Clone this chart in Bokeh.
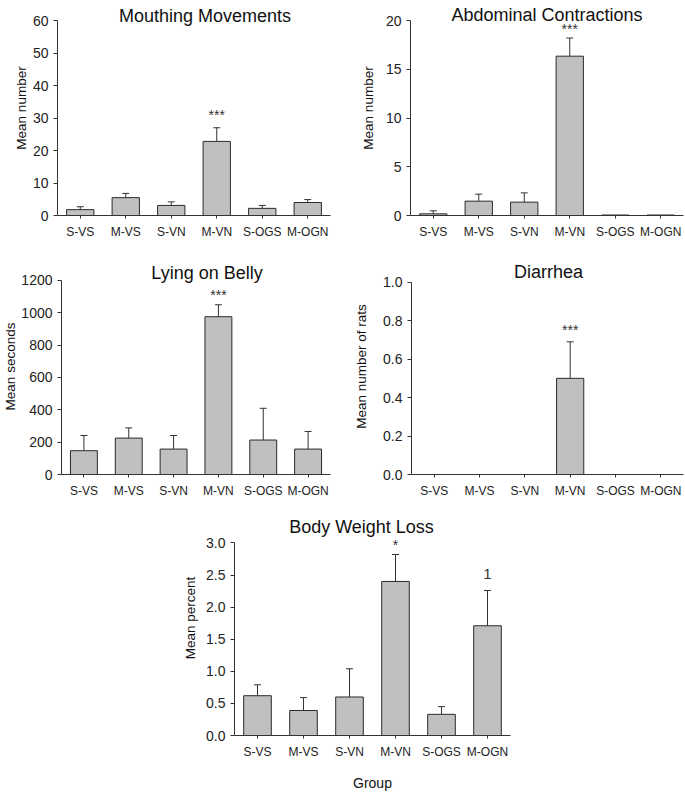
from bokeh.plotting import figure
from bokeh.layouts import column, row
from bokeh.models import (ColumnDataSource, Whisker, TeeHead, FixedTicker,
                          NumeralTickFormatter, Range1d, FactorRange)
from bokeh.embed import file_html
from bokeh.resources import INLINE
from bokeh.core.properties import value

# ---------------- data ----------------
groups = ["S-VS", "M-VS", "S-VN", "M-VN", "S-OGS", "M-OGN"]

mouth_mean = [1.8, 5.5, 3.1, 22.8, 2.2, 4.0]
mouth_err = [0.9, 1.3, 1.1, 4.2, 0.9, 0.9]

abd_mean = [0.17, 1.47, 1.37, 16.34, 0.05, 0.05]
abd_err = [0.31, 0.72, 0.95, 1.86, 0.0, 0.0]

lying_mean = [147, 225, 157, 975, 213, 157]
lying_err = [94, 63, 84, 74, 196, 109]

diar_mean = [0, 0, 0, 0.5, 0, 0]
diar_err = [0, 0, 0, 0.19, 0, 0]

bw_mean = [0.62, 0.39, 0.60, 2.40, 0.33, 1.71]
bw_err = [0.17, 0.20, 0.44, 0.42, 0.12, 0.55]

mouth_ticks = [0, 10, 20, 30, 40, 50, 60]
abd_ticks = [0, 5, 10, 15, 20]
lying_ticks = [0, 200, 400, 600, 800, 1000, 1200]
diar_ticks = [0, 0.2, 0.4, 0.6, 0.8, 1.0]
bw_ticks = [0, 0.5, 1.0, 1.5, 2.0, 2.5, 3.0]

mouth_sig = [("M-VN", "***")]
abd_sig = [("M-VN", "***")]
lying_sig = [("M-VN", "***")]
diar_sig = [("M-VN", "***")]
bw_sig = [("M-VN", "*"), ("M-OGN", "1")]

FONT = "Liberation Sans"
AX = "#333333"


def panel(title, ylabel, means, errs, ticks, fmt, sigs, w, h, bl, br, bb,
          gap, t_xoff, t_yoff, sig_off, ylab_standoff, xlabel=None):
    frame_h = h - bb
    ymax = ticks[-1]
    y_end = ymax * frame_h / (frame_h - gap)
    p = figure(width=w, height=h, x_range=FactorRange(*groups),
               y_range=Range1d(ticks[0], y_end),
               output_backend="svg", toolbar_location=None,
               min_border_left=bl, min_border_right=br,
               min_border_top=0, min_border_bottom=bb)
    p.outline_line_color = None
    p.xgrid.visible = False
    p.ygrid.visible = False
    p.background_fill_color = "white"
    p.border_fill_color = "white"

    src = ColumnDataSource(dict(g=groups, m=means))
    p.vbar(x="g", top="m", width=0.6, source=src, fill_color="#c0c0c0",
           line_color="#2a2a2a", line_width=1)

    eg = [g for g, e in zip(groups, errs) if e > 0]
    em = [m for m, e in zip(means, errs) if e > 0]
    eu = [m + e for m, e in zip(means, errs) if e > 0]
    esrc = ColumnDataSource(dict(g=eg, m=em, u=eu))
    wh = Whisker(source=esrc, base="g", lower="m", upper="u",
                 lower_head=None,
                 upper_head=TeeHead(size=7, line_color=AX, line_width=1),
                 line_color=AX, line_width=1)
    p.add_layout(wh)

    for (g, txt), off in zip(sigs, sig_off):
        i = groups.index(g)
        size = "15px" if txt == "1" else "14px"
        s = ColumnDataSource(dict(x=[g], y=[means[i] + errs[i]], t=[txt]))
        p.text(x="x", y="y", text="t", source=s, text_font=value(FONT),
               text_font_size=size, text_align="center",
               text_baseline="alphabetic", text_color="#333333", y_offset=off)

    # panel title, centred over the plot (synthetic x = 3.0 is the middle)
    ts = ColumnDataSource(dict(x=[3.0], y=[ymax], t=[title]))
    p.text(x="x", y="y", text="t", source=ts, text_font=value(FONT),
           text_font_size="18px", text_align="center",
           text_baseline="alphabetic", text_color="#111111",
           x_offset=t_xoff, y_offset=-t_yoff)

    for ax in (p.xaxis, p.yaxis):
        ax.axis_line_color = AX
        ax.major_tick_line_color = AX
        ax.major_tick_in = 0
        ax.minor_tick_line_color = None
        ax.major_label_text_font = FONT
        ax.major_label_text_color = "#222222"
        ax.axis_label_text_font = FONT
        ax.axis_label_text_font_style = "normal"
        ax.axis_label_text_color = "#111111"
    p.xaxis.major_tick_out = 3
    p.xaxis.major_label_text_font_size = "12px"
    p.xaxis.major_label_standoff = 6
    p.yaxis.major_tick_out = 4
    p.yaxis.major_label_text_font_size = "14px"
    p.yaxis.major_label_standoff = 5
    p.yaxis.ticker = FixedTicker(ticks=ticks)
    p.yaxis.bounds = (ticks[0], ymax)
    p.yaxis.formatter = NumeralTickFormatter(format=fmt)
    p.yaxis.axis_label = ylabel
    p.yaxis.axis_label_text_font_size = "13.5px"
    p.yaxis.axis_label_standoff = ylab_standoff
    if xlabel:
        p.xaxis.axis_label = xlabel
        p.xaxis.axis_label_text_font_size = "14px"
        p.xaxis.axis_label_standoff = 13
    return p


p1 = panel("Mouthing Movements", "Mean number", mouth_mean, mouth_err,
           mouth_ticks, "0", mouth_sig, 340, 258, 57, 10, 43,
           20, 11, 5, [-13], 1)
p2 = panel("Abdominal Contractions", "Mean number", abd_mean, abd_err,
           abd_ticks, "0", abd_sig, 345, 258, 70, 2, 43,
           20, 0, 6, [-9], 7)
p3 = panel("Lying on Belly", "Mean seconds", lying_mean, lying_err,
           lying_ticks, "0", lying_sig, 340, 242, 57, 10, 24,
           22, 11, 7, [-10], 0)
p4 = panel("Diarrhea", "Mean number of rats", diar_mean, diar_err,
           diar_ticks, "0.0", diar_sig, 345, 242, 71, 2, 23,
           24, 1, 10, [-12], 11)
p5 = panel("Body Weight Loss", "Mean percent", bw_mean, bw_err,
           bw_ticks, "0.0", bw_sig, 685, 293, 234, 175, 55,
           43, -11, 16, [-10, -16], 5, xlabel="Group")

layout = column(row(p1, p2), row(p3, p4), p5)

open("out.html", "w").write(file_html(layout, INLINE))
